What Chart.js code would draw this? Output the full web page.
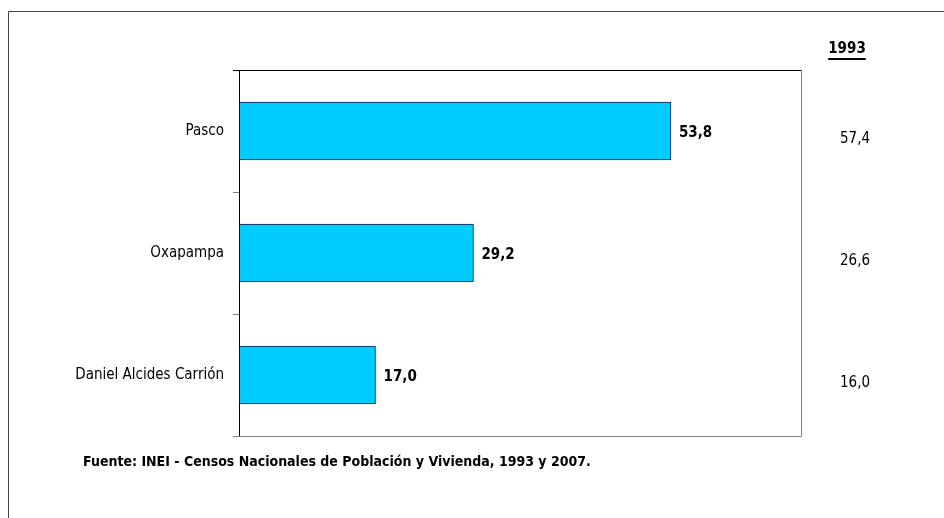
<!DOCTYPE html>
<html>
<head>
<meta charset="utf-8">
<script src="https://cdn.jsdelivr.net/npm/chart.js@4.4.1/dist/chart.umd.min.js"></script>
<style>
  html, body { margin: 0; padding: 0; background: #fff; }
  #wrap { width: 944px; height: 518px; }
</style>
</head>
<body>
<div id="wrap"><canvas id="grafico" width="944" height="518"></canvas></div>
<script>
const provincias = ['Pasco', 'Oxapampa', 'Daniel Alcides Carrión'];
const valores2007 = [53.8, 29.2, 17.0];
const valores1993 = [57.4, 26.6, 16.0];
const etiqueta1993 = '1993';
const fuente = 'Fuente: INEI - Censos Nacionales de Población y Vivienda, 1993 y 2007.';

const FUENTE_NARROW = "'Liberation Sans Narrow', 'Arial Narrow', 'DejaVu Sans Condensed', sans-serif";
const fmt = v => v.toFixed(1).replace('.', ',');

const marcoPlugin = {
    id: 'marco',
    beforeDraw(chart) {
        const c = chart.ctx;
        c.save();
        c.fillStyle = '#fff';
        c.fillRect(0, 0, chart.width, chart.height);
        // marco exterior (cortado a la derecha y abajo)
        c.strokeStyle = '#444';
        c.lineWidth = 1;
        c.beginPath();
        c.moveTo(8.5, chart.height);
        c.lineTo(8.5, 11.5);
        c.lineTo(chart.width, 11.5);
        c.stroke();
        c.restore();
    },
    afterDraw(chart) {
        const c = chart.ctx;
        const a = chart.chartArea;
        const y = chart.scales.y;
        c.save();
        // borde del area del grafico
        c.lineWidth = 1;
        c.strokeStyle = '#000';
        c.beginPath();
        c.moveTo(a.left - 6, a.top + 0.5);
        c.lineTo(a.right, a.top + 0.5);
        c.moveTo(a.left + 0.5, a.top);
        c.lineTo(a.left + 0.5, a.bottom);
        c.stroke();
        c.strokeStyle = '#808080';
        c.beginPath();
        c.moveTo(a.right + 0.5, a.top);
        c.lineTo(a.right + 0.5, a.bottom + 0.5);
        c.moveTo(a.left - 6, a.bottom + 0.5);
        c.lineTo(a.right + 0.5, a.bottom + 0.5);
        c.stroke();

        // etiquetas de valores 2007
        c.fillStyle = '#000';
        c.font = 'bold 15px ' + FUENTE_NARROW;
        c.textBaseline = 'middle';
        c.textAlign = 'left';
        chart.getDatasetMeta(0).data.forEach((bar, i) => {
            c.fillText(fmt(valores2007[i]), bar.x + 8, bar.y + 2);
        });

        // columna 1993
        c.font = '15px ' + FUENTE_NARROW;
        c.textAlign = 'center';
        valores1993.forEach((v, i) => {
            c.fillText(fmt(v), 855, y.getPixelForValue(i) + 8);
        });
        c.font = 'bold 15px ' + FUENTE_NARROW;
        c.fillText(etiqueta1993, 847, 49);
        const w = c.measureText(etiqueta1993).width;
        c.fillRect(847 - w / 2, 58, w, 2);

        // fuente
        c.textAlign = 'left';
        c.font = 'bold 14px ' + FUENTE_NARROW;
        c.fillText(fuente, 83, 462);
        c.restore();
    }
};

new Chart(document.getElementById('grafico'), {
    type: 'bar',
    data: {
        labels: provincias,
        datasets: [{
            label: '2007',
            data: valores2007,
            backgroundColor: '#00CCFF',
            borderColor: '#1a1a40',
            borderWidth: 1,
            borderSkipped: false,
            barThickness: 58
        }]
    },
    options: {
        indexAxis: 'y',
        responsive: false,
        animation: false,
        layout: { padding: { left: 0, right: 143, top: 70, bottom: 82 } },
        plugins: {
            legend: { display: false },
            tooltip: { enabled: false }
        },
        scales: {
            x: {
                display: false,
                min: 0,
                max: 70
            },
            y: {
                offset: true,
                grid: {
                    offset: true,
                    drawOnChartArea: false,
                    tickLength: 6,
                    color: '#808080'
                },
                border: { display: false },
                ticks: {
                    color: '#000',
                    padding: 9,
                    font: { family: FUENTE_NARROW, size: 15 }
                },
                afterFit(scale) { scale.width = 239; }
            }
        }
    },
    plugins: [marcoPlugin]
});
</script>
</body>
</html>
